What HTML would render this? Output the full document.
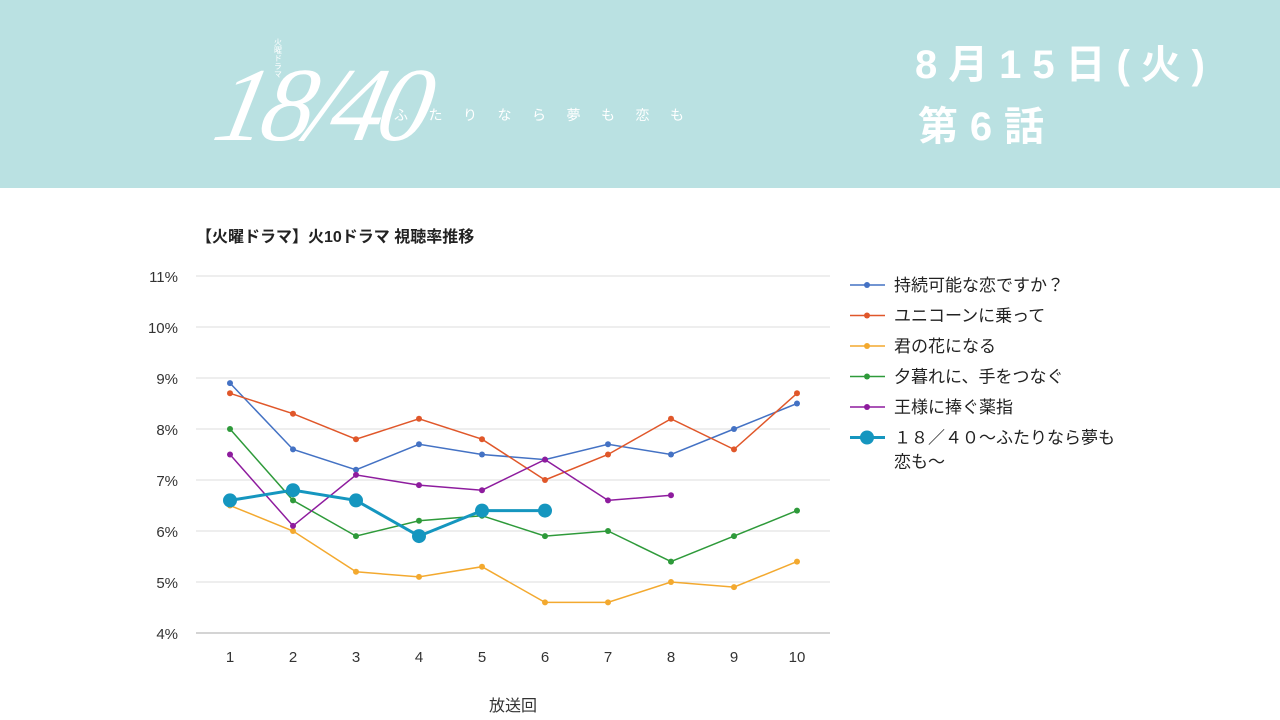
<!DOCTYPE html>
<html><head><meta charset="utf-8">
<style>
body{margin:0;width:1280px;height:720px;background:#fff;overflow:hidden;font-family:"Liberation Sans","Noto Sans CJK JP",sans-serif;}
#hdr{position:absolute;left:0;top:0;width:1280px;height:188px;background:#bae1e2;}
</style></head><body>
<div id="hdr">
<svg width="1280" height="188">
 <text x="278" y="38" font-size="8" fill="#fff" writing-mode="tb">火曜ドラマ</text>
 <text x="215" y="140" font-size="105" font-style="italic" font-family="Liberation Serif, serif" fill="#fff" transform="skewX(-12) translate(25,0)" letter-spacing="-6">18/40</text>
 <text x="394" y="120" font-size="14" fill="#fff" textLength="290">ふたりなら夢も恋も</text>
 <text x="915" y="78" font-size="40" font-weight="bold" fill="#fff" textLength="290">8月15日(火)</text>
 <text x="918" y="140" font-size="40" font-weight="bold" fill="#fff" textLength="126">第6話</text>
</svg>
</div>
<svg id="chart" width="1280" height="532" style="position:absolute;left:0;top:188px"></svg>
<script>
const episodes=[1,2,3,4,5,6,7,8,9,10];
const yTicks=[4,5,6,7,8,9,10,11];
const seriesNames=["持続可能な恋ですか？","ユニコーンに乗って","君の花になる","夕暮れに、手をつなぐ","王様に捧ぐ薬指","１８／４０～ふたりなら夢も恋も～"];
const sBlue=[8.9,7.6,7.2,7.7,7.5,7.4,7.7,7.5,8.0,8.5];
const sRed=[8.7,8.3,7.8,8.2,7.8,7.0,7.5,8.2,7.6,8.7];
const sOrange=[6.5,6.0,5.2,5.1,5.3,4.6,4.6,5.0,4.9,5.4];
const sGreen=[8.0,6.6,5.9,6.2,6.3,5.9,6.0,5.4,5.9,6.4];
const sPurple=[7.5,6.1,7.1,6.9,6.8,7.4,6.6,6.7];
const sTeal=[6.6,6.8,6.6,5.9,6.4,6.4];
const allSeries=[sBlue,sRed,sOrange,sGreen,sPurple,sTeal];
const colors=["#4472c4","#e0572a","#f3a92f","#2e9a3a","#8e1c9e","#1596bf"];
const OY=188;
function X(i){return 230+(i-1)*63;}
function Y(v){return 633-(v-4)*51-OY;}
const svg=document.getElementById('chart');
const NS="http://www.w3.org/2000/svg";
function mk(t,a){const e=document.createElementNS(NS,t);for(const k in a)e.setAttribute(k,a[k]);svg.appendChild(e);return e;}
let t=mk('text',{x:196,y:242-OY,'font-size':16,'font-weight':'bold',fill:'#222'});t.textContent="【火曜ドラマ】火10ドラマ 視聴率推移";


yTicks.forEach(v=>{
 const l=mk('line',{x1:196,x2:830,y1:Y(v),y2:Y(v),stroke:v==4?'#aaa':'#ddd','stroke-width':1});
 
 
 const tx=mk('text',{x:178,y:Y(v)+6,'font-size':15,'text-anchor':'end',fill:'#333'});tx.textContent=v+"%";
 
 
});
episodes.forEach(e=>{
 const tx=mk('text',{x:X(e),y:662-OY,'font-size':15,'text-anchor':'middle',fill:'#333'});tx.textContent=e;
 
 
});
t=mk('text',{x:513,y:711-OY,'font-size':16,'text-anchor':'middle',fill:'#333'});t.textContent="放送回";


allSeries.forEach((s,k)=>{
 const big=k==5;
 const p=mk('polyline',{points:s.map((v,i)=>X(i+1)+","+Y(v)).join(" "),fill:'none',stroke:colors[k],'stroke-width':big?3:1.5});
 
 
 s.forEach((v,i)=>{
  const c=mk('circle',{cx:X(i+1),cy:Y(v),r:big?7:3,fill:colors[k]});
  
  
 });
 const ly=285+k*30.5-OY;
 const ll=mk('line',{x1:850,x2:885,y1:ly,y2:ly,stroke:colors[k],'stroke-width':big?3:1.5});
 
 
 const lc=mk('circle',{cx:867,cy:ly,r:big?7:3,fill:colors[k]});
 
 
 const lt=mk('text',{x:894,y:ly+6,'font-size':17,fill:'#222'});
 
 
 if(big){lt.textContent="１８／４０～ふたりなら夢も";
  const l2=mk('text',{x:894,y:ly+30,'font-size':17,fill:'#222'});l2.textContent="恋も～";
  
  
 } else lt.textContent=seriesNames[k];
});
</script>
</body></html>
